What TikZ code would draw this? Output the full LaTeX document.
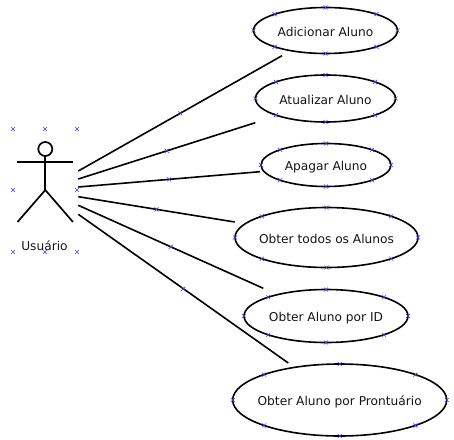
\documentclass[tikz,border=0pt]{standalone}
\usepackage{fontspec}
\setmainfont{DejaVu Sans}
\usetikzlibrary{shapes.geometric,shapes.misc}
\definecolor{mark}{RGB}{60,60,245}
\definecolor{ink}{RGB}{20,20,20}
\newcommand{\uclabel}[1]{\raisebox{-5.8pt}[0pt][0pt]{\makebox[0pt]{#1}}}
\tikzset{
  usecase/.style={draw=black,line width=1.6pt,shape=ellipse,inner sep=0pt,outer sep=0pt,text=ink,font=\fontsize{12.2}{14}\selectfont},
  actorline/.style={draw=black,line width=1.7pt},
  assoc/.style={draw=black,line width=1.6pt},
  handle/.style={draw=mark,line width=0.6pt,shape=cross out,inner sep=0pt,outer sep=0pt,minimum size=4pt},
}
\begin{document}
\begin{tikzpicture}[x=1pt,y=-1pt]
\useasboundingbox (0,0) rectangle (454,439);
% use cases
\node[usecase,minimum width=144pt,minimum height=46pt] (u1) at (325.5,30.5) {\uclabel{Adicionar Aluno}};
\node[usecase,minimum width=140pt,minimum height=47pt] (u2) at (325.5,98.5) {\uclabel{Atualizar Aluno}};
\node[usecase,minimum width=130pt,minimum height=43pt] (u3) at (326,165) {\uclabel{Apagar Aluno}};
\node[usecase,minimum width=183pt,minimum height=60pt] (u4) at (326.5,237.5) {\uclabel{Obter todos os Alunos}};
\node[usecase,minimum width=164pt,minimum height=53pt] (u5) at (326,316) {\uclabel{Obter Aluno por ID}};
\node[usecase,minimum width=214pt,minimum height=72pt] (u6) at (339.7,400) {\uclabel{Obter Aluno por Prontuário}};
% actor
\node[draw=black,line width=1.7pt,shape=circle,minimum size=14pt,inner sep=0pt,outer sep=0pt] (head) at (45.3,149) {};
\coordinate (hip) at (45.3,190);
\coordinate (armL) at (17,161.7);
\coordinate (armR) at (73,161.7);
\coordinate (legL) at (17.5,222);
\coordinate (legR) at (73,222);
\draw[actorline] (head.south) -- (hip);
\draw[actorline] (armL) -- (armR);
\draw[actorline] (legL) -- (hip) -- (legR);
\node[text=ink,font=\fontsize{12.2}{14}\selectfont,anchor=base,inner sep=0pt] (actorname) at (44.5,250) {Usuário};
% association ends
\coordinate (a1) at (78.3,171);    \coordinate (e1) at (282,55.7);
\coordinate (a2) at (78.3,179);    \coordinate (e2) at (255.3,122.7);
\coordinate (a3) at (78.3,187);    \coordinate (e3) at (260,171.7);
\coordinate (a4) at (78.3,196.7);  \coordinate (e4) at (234.7,222);
\coordinate (a5) at (78.3,205.3);  \coordinate (e5) at (263.3,288.3);
\coordinate (a6) at (78.3,214.3);  \coordinate (e6) at (288.3,363);
\foreach \i in {1,...,6}{
  \draw[assoc] (a\i) -- (e\i) node[handle,midway] (m\i) {};
}
% selection handles on the use cases
\foreach \u in {u1,u2,u3,u4,u5,u6}{
  \foreach \p in {north,south,east,west,north east,north west,south east,south west}{
    \node[handle] (\u-\p) at (\u.\p) {};
  }
}
% selection handles on the actor
\foreach \x/\y [count=\n] in {13/129,45/129,77/129,13/190,77/190,13/252,45/252,77/252}{
  \node[handle] (h\n) at (\x,\y) {};
}
\end{tikzpicture}
\end{document}
